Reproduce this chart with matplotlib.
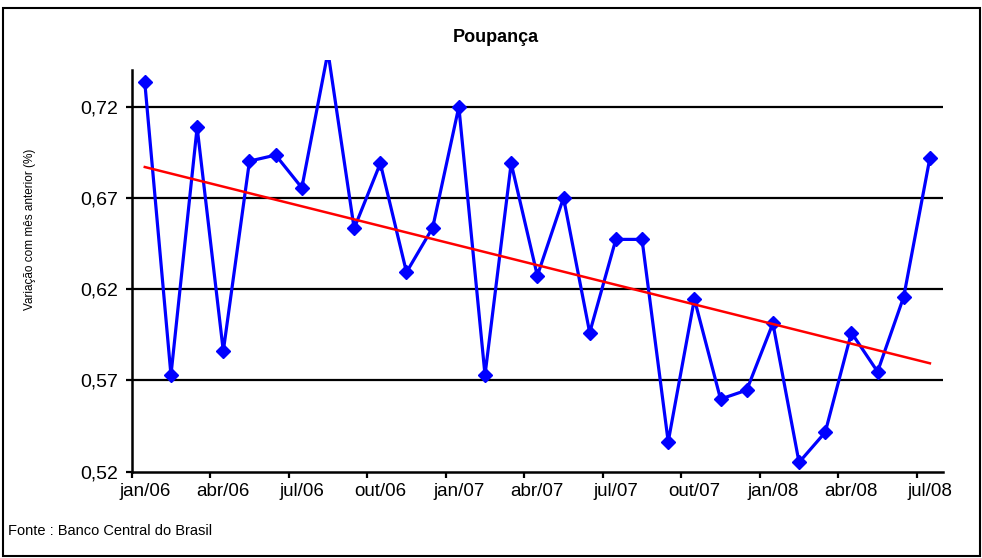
import matplotlib
matplotlib.use("Agg")
import matplotlib.pyplot as plt
from matplotlib.patches import Rectangle
import numpy as np

plt.rcParams['font.family'] = ['Liberation Sans', 'DejaVu Sans']

# variação mensal da poupança (%), jan/06 .. jul/08
meses = ["jan/06", "fev/06", "mar/06", "abr/06", "mai/06", "jun/06", "jul/06", "ago/06",
         "set/06", "out/06", "nov/06", "dez/06", "jan/07", "fev/07", "mar/07", "abr/07",
         "mai/07", "jun/07", "jul/07", "ago/07", "set/07", "out/07", "nov/07", "dez/07",
         "jan/08", "fev/08", "mar/08", "abr/08", "mai/08", "jun/08", "jul/08"]
poupanca = [0.7334, 0.5730, 0.7087, 0.5861, 0.6902, 0.6935, 0.6756, 0.7500,
            0.6533, 0.6890, 0.6293, 0.6537, 0.7200, 0.5730, 0.6890, 0.6274,
            0.6701, 0.5962, 0.6473, 0.6473, 0.5364, 0.6146, 0.5598, 0.5647,
            0.6013, 0.5251, 0.5416, 0.5962, 0.5748, 0.6159, 0.6920]
y_ticks = [0.52, 0.57, 0.62, 0.67, 0.72]

x = np.arange(len(meses))
y = np.array(poupanca)

fig = plt.figure(figsize=(9.82, 5.58), dpi=100)
W, H = 982, 558
ax = fig.add_axes([131.7 / W, 1 - 471.7 / H, (943 - 131.7) / W, (471.7 - 60) / H])

# linhas de grade horizontais
for v in y_ticks[1:]:
    ax.axhline(v, color="black", lw=1.6, zorder=1)

ax.plot(x, y, color="#0000FF", lw=2.3, marker="D", ms=7.2, mew=1,
        mec="#0000FF", mfc="#0000FF", zorder=3)

# linha de tendência linear
a, b = np.polyfit(x, y, 1)
ax.plot([x[0], x[-1]], [a * x[0] + b, a * x[-1] + b], color="#FF0000", lw=1.8, zorder=4)

ax.set_xlim(-0.5, len(meses) - 0.5)
ax.set_ylim(0.52, 0.7456)
ax.set_yticks(y_ticks)
ax.set_yticklabels([f"{v:.2f}".replace(".", ",") for v in y_ticks], fontsize=14)
ax.set_xticks(x[::3])
ax.set_xticklabels(meses[::3], fontsize=13.5)
ax.set_xticks(np.arange(-0.5, len(meses) - 1, 3), minor=True)
ax.tick_params(axis="x", which="major", length=0, pad=8)
ax.tick_params(axis="x", which="minor", length=4, width=1.6, direction="out")
ax.tick_params(axis="y", length=4, width=1.6, direction="out", pad=6)

for s in ["top", "right"]:
    ax.spines[s].set_visible(False)
ax.spines["left"].set_bounds(0.52, 0.74)
ax.spines["left"].set_linewidth(1.8)
ax.spines["bottom"].set_linewidth(1.8)

fig.text(496 / W, 1 - 38 / H, "Poupança", ha="center", va="center",
         fontsize=13, fontweight="bold")
fig.text(30 / W, 1 - 229 / H, "Variação com mês anterior (%)", rotation=90,
         ha="center", va="center", fontsize=8.5)
fig.text(8 / W, 1 - 531 / H, "Fonte : Banco Central do Brasil", ha="left",
         va="center", fontsize=10.5)

fig.patches.append(Rectangle((3 / W, 1 - 556 / H), 977 / W, 548 / H,
                             transform=fig.transFigure, fill=False,
                             edgecolor="black", lw=1.5))

fig.savefig("out.png", dpi=100)
